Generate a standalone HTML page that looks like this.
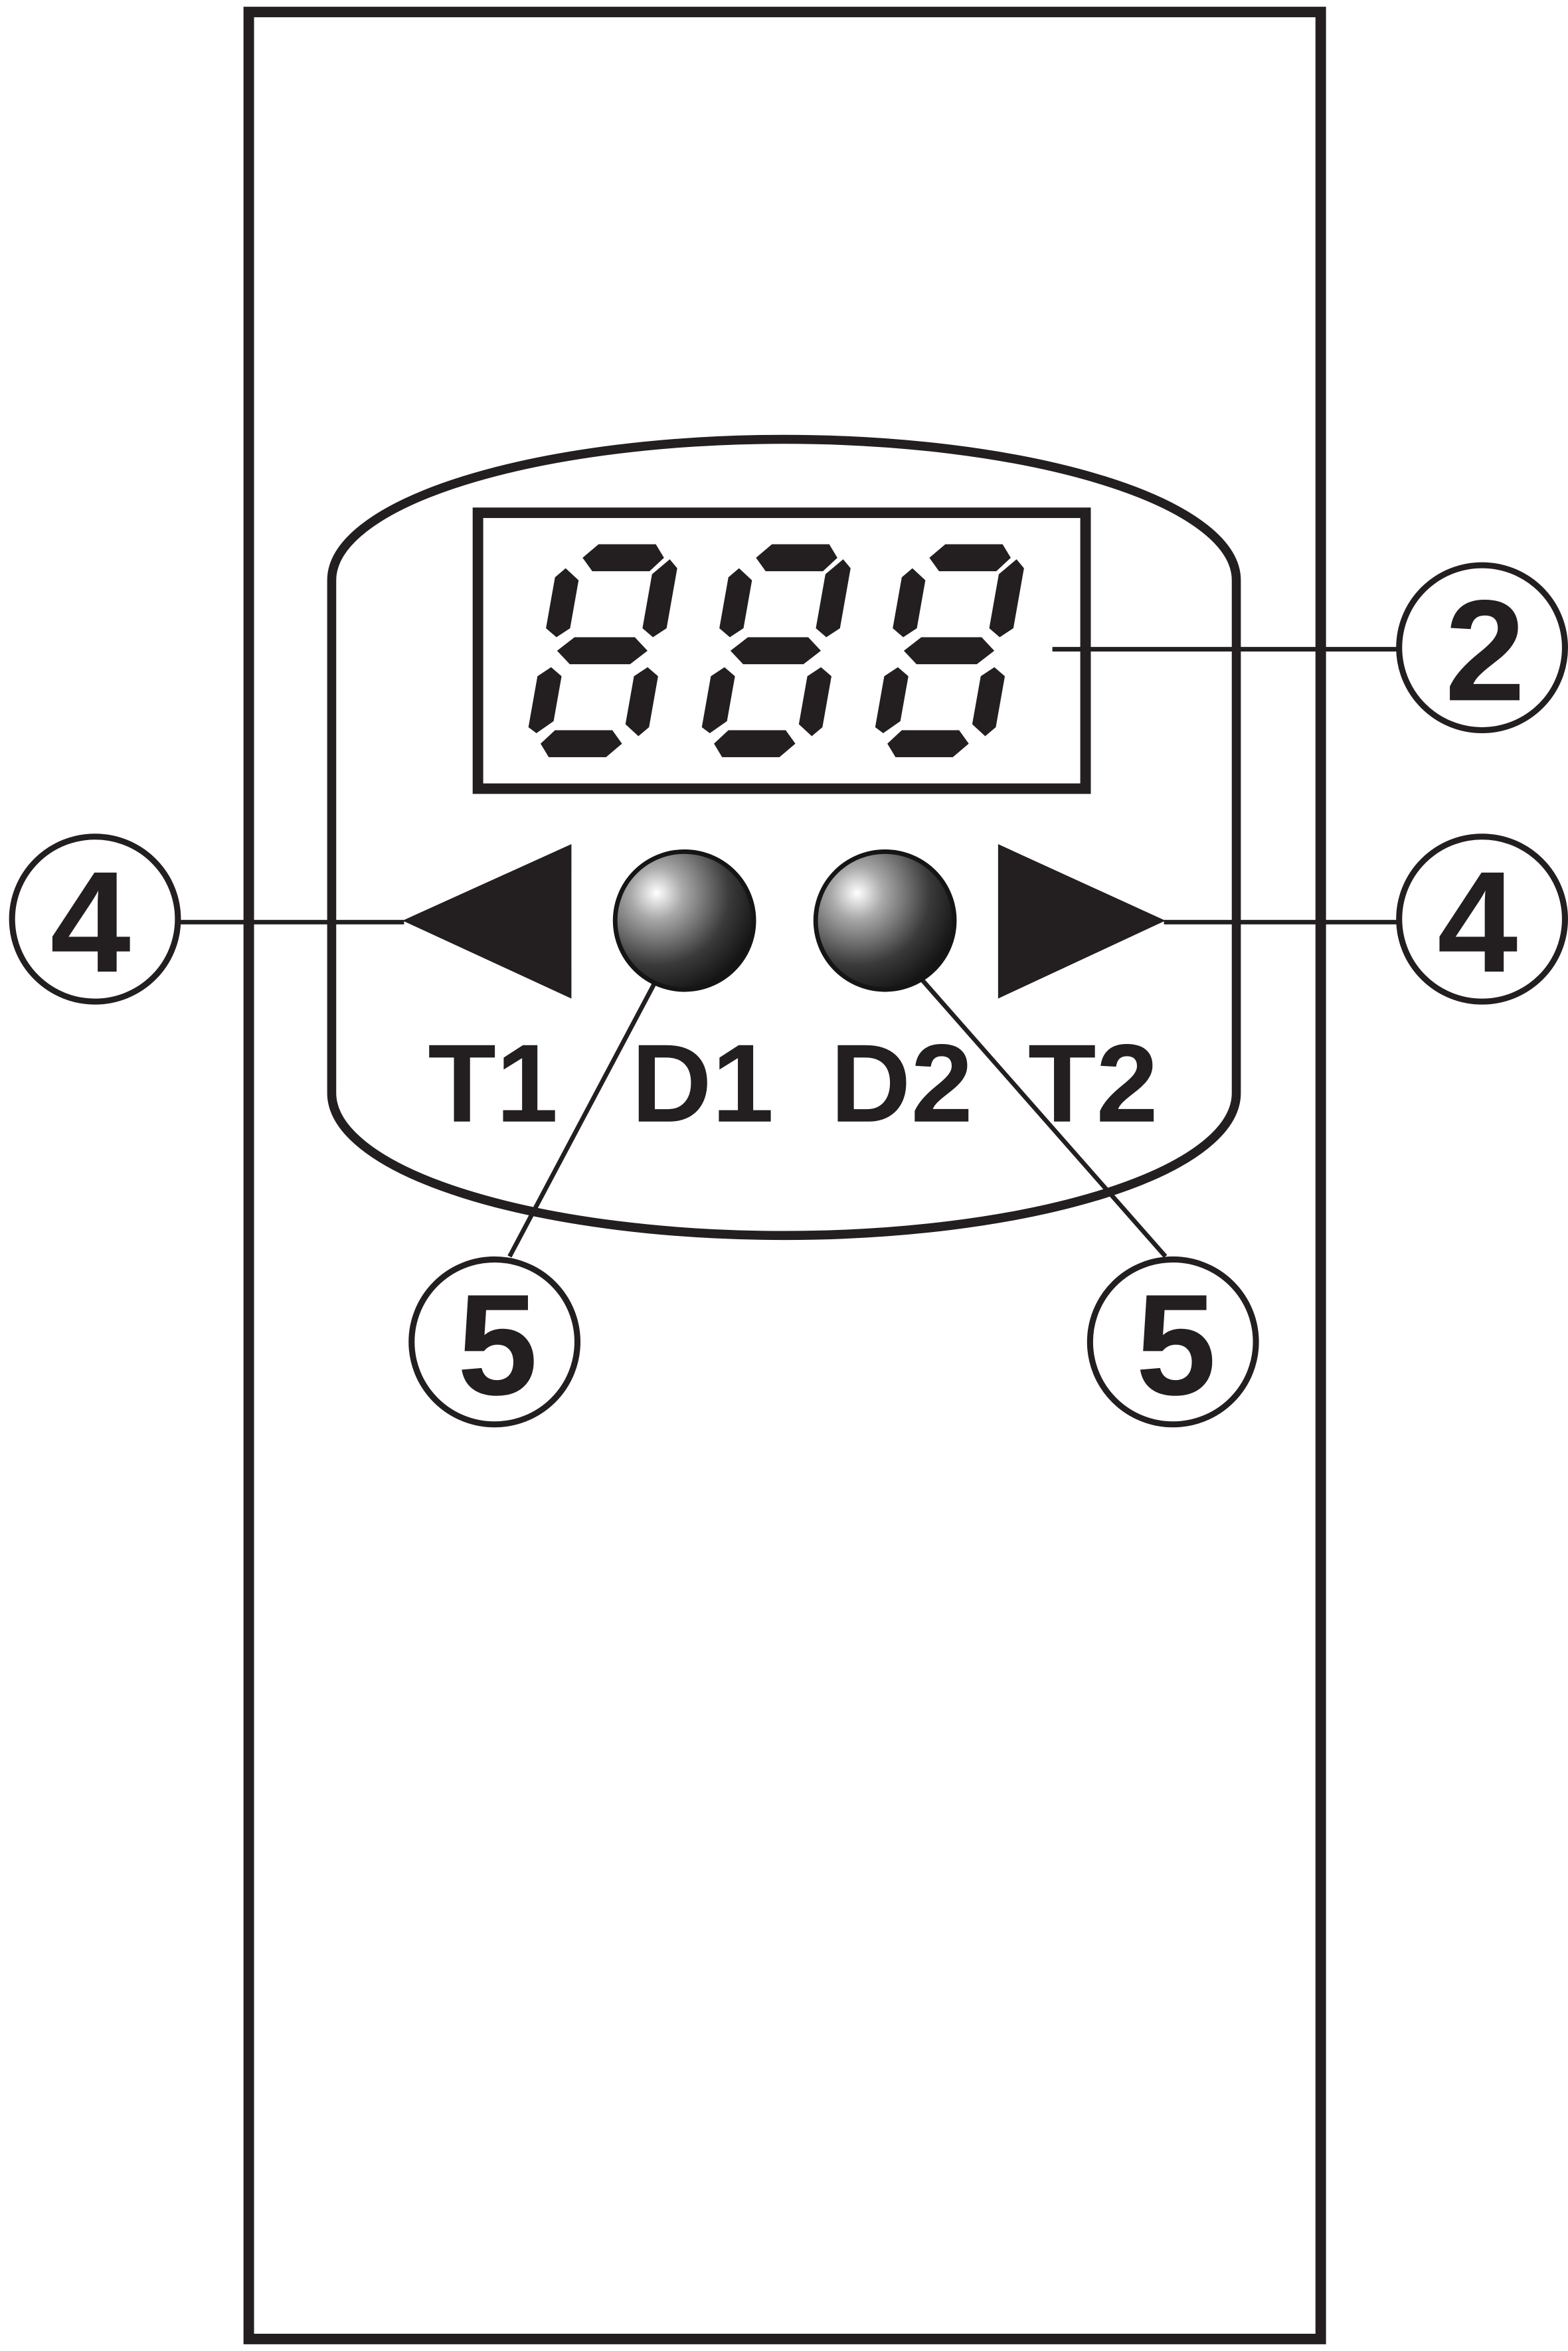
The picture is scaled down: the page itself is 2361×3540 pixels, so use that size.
<!DOCTYPE html>
<html><head><meta charset="utf-8"><style>
html,body{margin:0;padding:0;background:#fff;}
svg{display:block;}
</style></head><body>
<svg width="2361" height="3540" viewBox="0 0 1040 1568" preserveAspectRatio="none" xmlns="http://www.w3.org/2000/svg">
<defs>
<radialGradient id="led" cx="0.3" cy="0.3" r="0.75">
<stop offset="0" stop-color="#ffffff"/>
<stop offset="0.25" stop-color="#a9a9a9"/>
<stop offset="0.7" stop-color="#3a3a3a"/>
<stop offset="1" stop-color="#151515"/>
</radialGradient>
<g id="digit" fill="#231f20">
<polygon points="16,9 25,0 63,0 70,9 62,18 24,18"/>
<polygon points="10,71 20,62 60,62 70,71 60,80 20,80"/>
<polygon points="10,133 18,124 56,124 64,133 55,142 17,142"/>
<polygon points="6,16 16,24 16,56 8,62 0,56 0,22"/>
<polygon points="74,10 80,16 80,56 72,62 64,56 64,20"/>
<polygon points="8,82 16,88 16,118 6,126 0,122 0,88"/>
<polygon points="72,82 80,88 80,122 74,128 64,120 64,88"/>
</g>
</defs>
<g fill="none" stroke="#231f20">
<rect x="165" y="8" width="711" height="1552" stroke-width="7"/>
<path d="M220,387 A300,94 0 0 1 820,387 L820,729 A300,95 0 0 1 220,729 Z" stroke-width="6"/>
<rect x="317" y="342" width="403" height="184" stroke-width="7"/>
<line x1="698" y1="433" x2="928" y2="433" stroke-width="3"/>
<line x1="118" y1="615" x2="268" y2="615" stroke-width="3"/>
<line x1="772" y1="615" x2="928" y2="615" stroke-width="3"/>
<line x1="434" y1="656" x2="338" y2="838" stroke-width="3"/>
<line x1="612" y1="654" x2="773" y2="838" stroke-width="3"/>
<circle cx="983" cy="432" r="55" stroke-width="4" fill="#fff"/>
<circle cx="63" cy="613" r="55" stroke-width="4" fill="#fff"/>
<circle cx="983" cy="613" r="55" stroke-width="4" fill="#fff"/>
<circle cx="328" cy="895" r="55" stroke-width="4" fill="#fff"/>
<circle cx="778" cy="895" r="55" stroke-width="4" fill="#fff"/>
</g>
<use href="#digit" transform="translate(372,363) skewX(-10)"/>
<use href="#digit" transform="translate(487,363) skewX(-10)"/>
<use href="#digit" transform="translate(602,363) skewX(-10)"/>
<polygon points="267,614 379,563 379,666" fill="#231f20"/>
<polygon points="662,563 662,666 773,614" fill="#231f20"/>
<circle cx="454" cy="614" r="46" fill="url(#led)" stroke="#151515" stroke-width="3"/>
<circle cx="587" cy="614" r="46" fill="url(#led)" stroke="#151515" stroke-width="3"/>
<g font-family="Liberation Sans, DejaVu Sans, sans-serif" font-weight="bold" fill="#231f20" font-size="74">
<text x="327" y="748" text-anchor="middle">T1</text>
<text x="466" y="748" text-anchor="middle">D1</text>
<text x="598" y="748" text-anchor="middle">D2</text>
<text x="725" y="748" text-anchor="middle">T2</text>
</g>
<g font-family="Liberation Sans, DejaVu Sans, sans-serif" font-weight="bold" fill="#231f20" font-size="96" text-anchor="middle">
<text x="985" y="467">2</text>
<text x="60" y="648">4</text>
<text x="980" y="648">4</text>
<text x="330" y="930">5</text>
<text x="780" y="930">5</text>
</g>
</svg>
</body></html>
